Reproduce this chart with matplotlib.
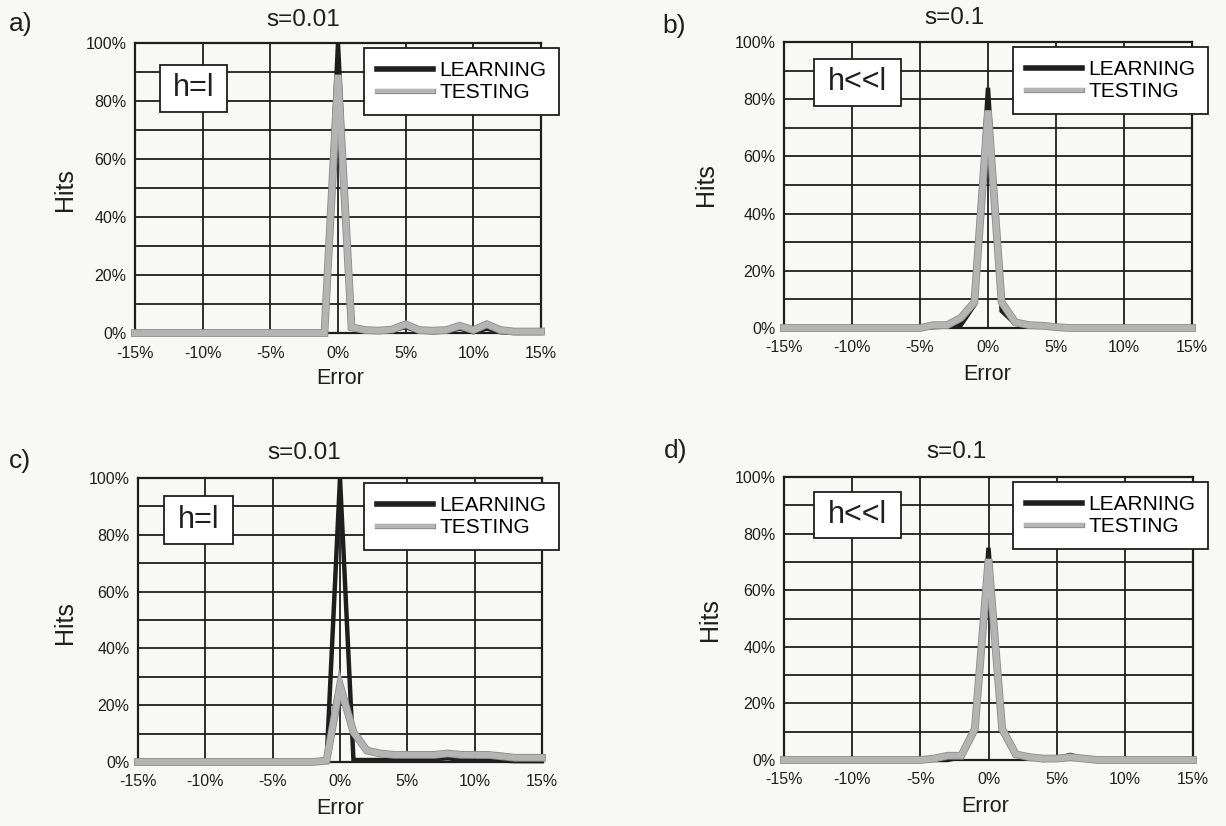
import matplotlib
matplotlib.use("Agg")
import matplotlib.pyplot as plt
import matplotlib.patheffects as pe
from matplotlib.lines import Line2D
from matplotlib.patches import Rectangle
import numpy as np

plt.rcParams['font.family'] = ['Liberation Sans', 'DejaVu Sans']

# error bins (%)
error = list(range(-15, 16))

# a) s=0.01, h=l
learn_a = [0]*14 + [0, 100, 1.5, 1, 0.5, 1, 2, 0.5, 0.3, 0.5, 1.5, 0.3, 1.5, 0.3, 0, 0, 0]
test_a = [0]*14 + [0, 89, 2, 1, 0.8, 1.2, 3, 1, 0.8, 1, 2.5, 1, 3, 1, 0.5, 0.5, 0.5]
# b) s=0.1, h<<l
learn_b = [0]*11 + [0.3, 0.5, 1, 8, 84, 6, 1.5, 1, 0.5, 0.2] + [0]*10
test_b = [0]*11 + [1, 1, 3.5, 9, 76, 9, 2, 1, 0.8, 0.3] + [0]*10
# c) s=0.01, h=l
learn_c = [0]*14 + [0, 100, 0.7, 0.7, 0.7, 0.7, 0.7, 0.7, 1, 1.3, 0.8, 0.5, 0.5, 0.5, 0.3, 0.3, 0.3]
test_c = [0]*14 + [0.5, 27, 10.5, 4, 3, 2.5, 2.5, 2.5, 2.5, 3, 2.5, 2.5, 2.5, 2, 1.5, 1.5, 1.5]
# d) s=0.1, h<<l
learn_d = [0]*12 + [0, 1, 10, 75, 10, 2, 1, 0, 0.5, 1.8, 0.5] + [0]*8
test_d = [0]*11 + [0.5, 1.5, 1.5, 11, 71, 11, 2, 1, 0.5, 0.5, 1, 0.5] + [0]*8

panels = [
    ("a)", "s=0.01", "h=l", learn_a, test_a),
    ("b)", "s=0.1", "h<<l", learn_b, test_b),
    ("c)", "s=0.01", "h=l", learn_c, test_c),
    ("d)", "s=0.1", "h<<l", learn_d, test_d),
]

W, H = 1226, 826
fig = plt.figure(figsize=(W/100, H/100), dpi=100)
fig.patch.set_facecolor('#f8f8f6')

def fx(x):
    return x / W

def fy(y):
    return 1 - y / H

# axes boxes in pixels: left, top, right, bottom
boxes = [(135, 43, 541, 333), (784, 42, 1192, 328), (138, 478, 542, 762), (784, 477, 1193, 760)]
# where the extra labels go (pixels)
panel_lbl = [(9, 24), (662, 26), (9, 461), (664, 451)]
title_xy = [(303, 20), (954, 18), (304, 453), (956, 452)]
hits_xy = [(65, 190), (706, 185), (65, 623), (710, 620)]
err_xy = [(340, 378), (987, 375), (340, 808), (985, 807)]
hbox = [(160, 65, 227, 112), (814, 59, 901, 106), (164, 496, 233, 544), (814, 492, 901, 538)]
leg_xy = [(364, 48), (1013, 47), (364, 483), (1013, 482)]

ink = '#1e1e1e'
gray = '#b4b4b4'
edge = [pe.Stroke(linewidth=5.6, foreground='#8c8c8c'), pe.Normal()]

for i, (plbl, title, hl, learn, test) in enumerate(panels):
    l, t, r, b = boxes[i]
    ax = fig.add_axes([fx(l), fy(b), fx(r - l), (b - t) / H])
    ax.set_facecolor('none')
    ax.set_xlim(-15, 15)
    ax.set_ylim(0, 100)
    ax.set_xticks(np.arange(-15, 16, 5))
    ax.set_xticklabels([f"{v}%" for v in range(-15, 16, 5)])
    ax.set_yticks(np.arange(0, 101, 20))
    ax.set_yticklabels([f"{v}%" for v in range(0, 101, 20)])
    ax.set_yticks(np.arange(0, 101, 10), minor=True)
    ax.tick_params(length=0, labelsize=11.5, colors=ink)
    ax.tick_params(axis='x', pad=9)
    ax.tick_params(axis='y', pad=6)
    ax.tick_params(which='minor', length=0)
    ax.grid(True, which='both', color=ink, lw=1.3)
    for s in ax.spines.values():
        s.set_linewidth(1.6)
        s.set_color(ink)
    ax.plot(error, learn, color=ink, lw=3.2, solid_joinstyle='miter', clip_on=False, zorder=3)
    ax.plot(error, test, color=gray, lw=4.4, solid_joinstyle='miter', clip_on=False, zorder=4,
            path_effects=edge)

    handles = [Line2D([], [], color=ink, lw=4.0),
               Line2D([], [], color=gray, lw=3.0,
                      path_effects=[pe.Stroke(linewidth=3.8, foreground='#8c8c8c'), pe.Normal()])]
    lx, ly = leg_xy[i]
    leg = ax.legend(handles, ["LEARNING", "TESTING"], loc='upper left',
                    bbox_to_anchor=(fx(lx), fy(ly)), bbox_transform=fig.transFigure,
                    fontsize=15, frameon=True, fancybox=False, framealpha=1,
                    edgecolor=ink, facecolor='white', borderpad=0.62,
                    handlelength=2.7, handletextpad=0.3, labelspacing=0.16,
                    borderaxespad=0)
    leg.get_frame().set_linewidth(1.3)
    leg.set_zorder(10)

    x0, y0, x1, y1 = hbox[i]
    fig.add_artist(Rectangle((fx(x0), fy(y1)), fx(x1 - x0), (y1 - y0) / H,
                             transform=fig.transFigure, facecolor='white',
                             edgecolor=ink, lw=1.3, zorder=10))
    fig.text(fx((x0 + x1) / 2), fy((y0 + y1) / 2), hl, fontsize=22,
             ha='center', va='center', color=ink, zorder=11)

    fig.text(fx(panel_lbl[i][0]), fy(panel_lbl[i][1]), plbl, fontsize=19,
             ha='left', va='center', color=ink)
    fig.text(fx(title_xy[i][0]), fy(title_xy[i][1]), title, fontsize=17.5,
             ha='center', va='center', color=ink)
    fig.text(fx(hits_xy[i][0]), fy(hits_xy[i][1]), "Hits", fontsize=18, rotation=90,
             ha='center', va='center', color=ink)
    fig.text(fx(err_xy[i][0]), fy(err_xy[i][1]), "Error", fontsize=15.5,
             ha='center', va='center', color=ink)

fig.savefig("out.png", dpi=100, facecolor=fig.get_facecolor())
